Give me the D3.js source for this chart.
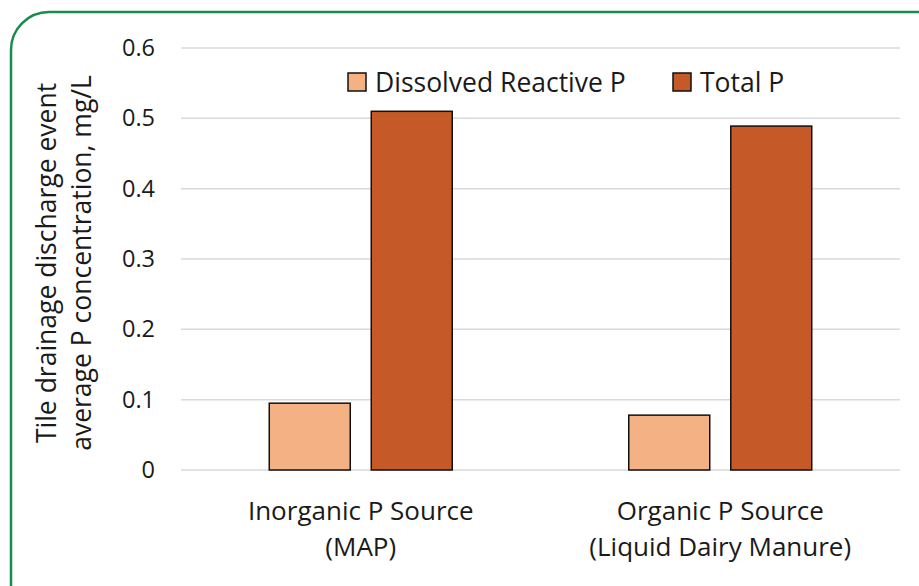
<!DOCTYPE html>
<html>
<head>
<meta charset="utf-8">
<script src="https://cdn.jsdelivr.net/npm/d3@7"></script>
<style>
  html, body { margin: 0; padding: 0; background: #fff; }
  svg text { font-family: "Open Sans", "Noto Sans", sans-serif; fill: #1a1a1a; }
</style>
</head>
<body>
<div id="chart"></div>
<script>
// Chart data
const categories = ['Inorganic P Source|(MAP)', 'Organic P Source|(Liquid Dairy Manure)'];
const seriesNames = ['Dissolved Reactive P', 'Total P'];
const dissolvedReactiveP = [0.095, 0.078];
const totalP = [0.510, 0.489];
const yTicks = [0, 0.1, 0.2, 0.3, 0.4, 0.5, 0.6];
const seriesColors = ['#F4B183', '#C55A28'];

const W = 919, H = 586;
const margin = { top: 48, right: 19, bottom: 116, left: 181 };
const width = W - margin.left - margin.right;
const height = H - margin.top - margin.bottom;

const rows = categories.map((c, i) => ({
    cat: c,
    values: [dissolvedReactiveP[i], totalP[i]]
}));

const svg = d3.select('#chart').append('svg')
    .attr('width', W)
    .attr('height', H);

// green rounded frame (runs off the right/bottom edge)
svg.append('rect')
    .attr('x', 11)
    .attr('y', 12)
    .attr('width', 960)
    .attr('height', 620)
    .attr('rx', 38)
    .attr('fill', '#fff')
    .attr('stroke', '#1b8a4e')
    .attr('stroke-width', 2.5);

const g = svg.append('g')
    .attr('transform', `translate(${margin.left},${margin.top})`);

// Scales
const x0 = d3.scaleBand()
    .domain(categories)
    .range([0, width])
    .paddingInner(0.491)
    .paddingOuter(0.2455);

const x1 = d3.scaleBand()
    .domain(seriesNames)
    .range([0, x0.bandwidth()])
    .paddingInner(0.206);

const y = d3.scaleLinear()
    .domain([0, 0.6])
    .range([height, 0]);

// Gridlines
g.append('g')
    .selectAll('line')
    .data(yTicks)
    .enter().append('line')
    .attr('x1', 0)
    .attr('x2', width)
    .attr('y1', d => y(d))
    .attr('y2', d => y(d))
    .attr('stroke', '#d9d9d9')
    .attr('stroke-width', 1.5);

// Y axis labels
const yAxis = g.append('g')
    .call(d3.axisLeft(y).tickValues(yTicks).tickSize(0).tickPadding(26)
        .tickFormat(d => d === 0 ? '0' : d3.format('.1f')(d)));
yAxis.select('.domain').remove();
yAxis.selectAll('text')
    .style('font-size', '23.5px')
    .attr('fill', '#1a1a1a');

// Bars
const groups = g.selectAll('.group')
    .data(rows)
    .enter().append('g')
    .attr('class', 'group')
    .attr('transform', d => `translate(${x0(d.cat)},0)`);

groups.selectAll('rect')
    .data(d => d.values.map((v, i) => ({ key: seriesNames[i], value: v, i })))
    .enter().append('rect')
    .attr('x', d => x1(d.key))
    .attr('y', d => y(d.value))
    .attr('width', x1.bandwidth())
    .attr('height', d => height - y(d.value))
    .attr('fill', d => seriesColors[d.i])
    .attr('stroke', '#111')
    .attr('stroke-width', 1.5);

// Category labels (two lines)
const xLabels = g.selectAll('.x-label')
    .data(categories)
    .enter().append('text')
    .attr('class', 'x-label')
    .attr('text-anchor', 'middle')
    .attr('x', d => x0(d) + x0.bandwidth() / 2)
    .attr('y', height + 50)
    .style('font-size', '26px');
xLabels.selectAll('tspan')
    .data(d => d.split('|'))
    .enter().append('tspan')
    .attr('x', function() { return d3.select(this.parentNode).attr('x'); })
    .attr('dy', (d, i) => i === 0 ? 0 : 36)
    .text(d => d);

// Y axis title
const yTitle = svg.append('text')
    .attr('transform', `translate(0,263) rotate(-90)`)
    .attr('text-anchor', 'middle')
    .style('font-size', '26.5px');
yTitle.append('tspan').attr('x', 0).attr('y', 56).text('Tile drainage discharge event');
yTitle.append('tspan').attr('x', 0).attr('y', 91).text('average P concentration, mg/L');

// Legend
const legendItems = [
    { name: seriesNames[0], x: 348 },
    { name: seriesNames[1], x: 673 }
];
const legend = svg.append('g');
const li = legend.selectAll('g')
    .data(legendItems)
    .enter().append('g')
    .attr('transform', d => `translate(${d.x},73)`);
li.append('rect')
    .attr('width', 18)
    .attr('height', 18)
    .attr('fill', (d, i) => seriesColors[i])
    .attr('stroke', '#111')
    .attr('stroke-width', 1.5);
li.append('text')
    .attr('x', 27)
    .attr('y', 9)
    .attr('dy', '0.36em')
    .style('font-size', '26.5px')
    .text(d => d.name);
</script>
</body>
</html>
